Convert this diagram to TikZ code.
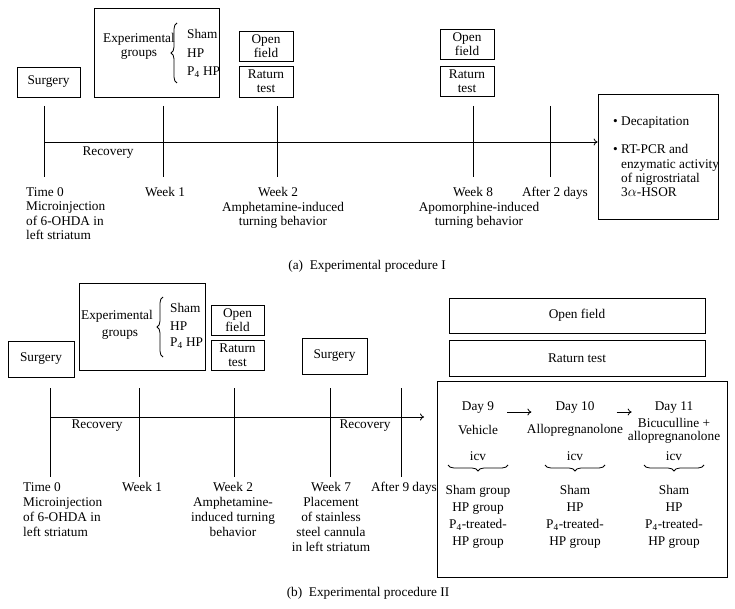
\documentclass[tikz,border=0pt]{standalone}
\usepackage{fontspec}
\setmainfont{Liberation Serif}
\usetikzlibrary{arrows.meta,decorations.pathreplacing}
\begin{document}
\begin{tikzpicture}[x=1pt,y=-1pt,
  every node/.style={font=\fontsize{13.3}{15}\selectfont, inner sep=0pt},
  box/.style={draw, line width=0.8pt, align=center},
  txt/.style={align=center},
  ln/.style={line width=0.8pt},
  arr/.style={line width=0.8pt, -{To[length=4pt,width=7pt]}},
  brc/.style={line width=0.8pt, decorate, decoration={brace, amplitude=6pt}},
  tight/.style={font=\fontsize{13.3}{14.3}\selectfont}]
\useasboundingbox (0,0) rectangle (735,609);

% ===================== (a) =====================
\node[box, minimum width=63pt, minimum height=30pt] (surgA) at (48.5,82) {Surgery};
\node[box, minimum width=125pt, minimum height=89pt] (expA) at (156.5,52.5) {};
\node[txt, tight] (expAt) at (139,46) {Experimental\\groups};
\draw[brc] (177,83) -- (177,23);
\node[anchor=west] (shamA) at (187,34) {Sham};
\node[anchor=west] (hpA) at (187,53) {HP};
\node[anchor=west] (p4A) at (187,72) {P\textsubscript{4} HP};
\node[box, tight, minimum width=54pt, minimum height=30pt] (openA1) at (266,46) {Open\\field};
\node[box, tight, minimum width=54pt, minimum height=31pt] (ratA1) at (266,81.5) {Raturn\\test};
\node[box, tight, minimum width=54pt, minimum height=30pt] (openA2) at (467,44) {Open\\field};
\node[box, tight, minimum width=54pt, minimum height=30pt] (ratA2) at (467,81) {Raturn\\test};
\node[box, minimum width=120pt, minimum height=125pt] (rightA) at (658,156.5) {};
\node[anchor=west] (decA) at (613,123) {\textbullet\ Decapitation};
\node[anchor=north west, align=left, tight] (rtA) at (613,144.4) {\textbullet\ RT-PCR and\\\hphantom{\textbullet\ }enzymatic activity\\\hphantom{\textbullet\ }of nigrostriatal\\\hphantom{\textbullet\ }3$\alpha$-HSOR};

% timeline a
\coordinate (a0t) at (44,106); \coordinate (a0b) at (44,177);
\coordinate (a1t) at (163,106); \coordinate (a1b) at (163,177);
\coordinate (a2t) at (277,106); \coordinate (a2b) at (277,177);
\coordinate (a8t) at (473,106); \coordinate (a8b) at (473,177);
\coordinate (a9t) at (550,106); \coordinate (a9b) at (550,177);
\coordinate (lineA) at (44,142);
\foreach \t in {a0,a1,a2,a8,a9} \draw[ln] (\t t) -- (\t b);
\draw[arr] (lineA) -- (lineA -| rightA.west);
\node (recA) at (108,153) {Recovery};

\node[anchor=north west, align=left, tight] (t0A) at (26,187.4) {Time 0\\Microinjection\\of 6-OHDA in\\left striatum};
\node[anchor=north] (w1A) at (165,187.4) {Week 1};
\node[anchor=north] (w2A) at (278,187.4) {Week 2};
\node[anchor=north, txt, tight] (w2Ab) at (283,201.7) {Amphetamine-induced\\turning behavior};
\node[anchor=north] (w8A) at (473,187.4) {Week 8};
\node[anchor=north, txt, tight] (w8Ab) at (479,201.7) {Apomorphine-induced\\turning behavior};
\node[anchor=north] (a2d) at (555,187.4) {After 2 days};
\node (capA) at (367,266) {(a)\ \ Experimental procedure I};

% ===================== (b) =====================
\node[box, minimum width=66pt, minimum height=36pt] (surgB1) at (41,359) {Surgery};
\node[box, minimum width=126pt, minimum height=87pt] (expB) at (142,326.5) {};
\node (expBt1) at (117,316) {Experimental};
\node (expBt2) at (120,335) {groups};
\draw[brc] (163,357) -- (163,297);
\node[anchor=west] (shamB) at (170,308) {Sham};
\node[anchor=west] (hpB) at (170,326) {HP};
\node[anchor=west] (p4B) at (170,343) {P\textsubscript{4} HP};
\node[box, tight, minimum width=53pt, minimum height=30pt] (openB1) at (237.5,320) {Open\\field};
\node[box, tight, minimum width=53pt, minimum height=30pt] (ratB1) at (237.5,355) {Raturn\\test};
\node[box, minimum width=65pt, minimum height=36pt] (surgB2) at (334.5,356) {Surgery};
\node[box, minimum width=256pt, minimum height=35pt] (openB2) at (577,315.5) {Open field};
\node[box, minimum width=256pt, minimum height=36pt] (ratB2) at (577,358) {Raturn test};
\node[box, minimum width=290pt, minimum height=196pt] (bigB) at (582,479) {};

% timeline b
\coordinate (b0t) at (50,388); \coordinate (b0b) at (50,477);
\coordinate (b1t) at (139,388); \coordinate (b1b) at (139,477);
\coordinate (b2t) at (234,388); \coordinate (b2b) at (234,477);
\coordinate (b7t) at (330,388); \coordinate (b7b) at (330,477);
\coordinate (b9t) at (401,388); \coordinate (b9b) at (401,477);
\coordinate (lineB) at (50,417);
\coordinate (lineBend) at (424,417);
\foreach \t in {b0,b1,b2,b7,b9} \draw[ln] (\t t) -- (\t b);
\draw[arr] (lineB) -- (lineBend);
\node (recB1) at (97,426) {Recovery};
\node (recB2) at (365,426) {Recovery};

\node[anchor=north west, align=left] (t0B) at (23,482.4) {Time 0\\Microinjection\\of 6-OHDA in\\left striatum};
\node[anchor=north] (w1B) at (142,482.4) {Week 1};
\node[anchor=north, txt] (w2B) at (233,482.4) {Week 2\\Amphetamine-\\induced turning\\behavior};
\node[anchor=north, txt] (w7B) at (331,482.4) {Week 7\\Placement\\of stainless\\steel cannula\\in left striatum};
\node[anchor=north] (a9B) at (404,482.4) {After 9 days};

% inside big box
\node (d9) at (478,408) {Day 9};
\node (veh) at (478,430) {Vehicle};
\node (d10) at (575,408) {Day 10};
\node (allo) at (575,430) {Allopregnanolone};
\node (d11) at (674,408) {Day 11};
\node[txt, font=\fontsize{13.3}{13}\selectfont] (bicu) at (674,430.5) {Bicuculline +\\allopregnanolone};
\draw[arr] ([xshift=13pt,yshift=-4pt]d9.east) -- ([xshift=-24pt,yshift=-4pt]d10.west);
\draw[arr] ([xshift=22pt,yshift=-4pt]d10.east) -- ([xshift=-23pt,yshift=-4pt]d11.west);
\node (icv1) at (478,456) {icv};
\node (icv2) at (575,456) {icv};
\node (icv3) at (674,456) {icv};
\draw[brc, decoration={mirror, amplitude=6pt}] (448,465) -- (508,465);
\draw[brc, decoration={mirror, amplitude=6pt}] (545,465) -- (605,465);
\draw[brc, decoration={mirror, amplitude=6pt}] (644,465) -- (704,465);
\node[anchor=north, txt, font=\fontsize{13.3}{17}\selectfont] (g1) at (478,485.4) {Sham group\\HP group\\P\textsubscript{4}-treated-\\HP group};
\node[anchor=north, txt, font=\fontsize{13.3}{17}\selectfont] (g2) at (575,485.4) {Sham\\HP\\P\textsubscript{4}-treated-\\HP group};
\node[anchor=north, txt, font=\fontsize{13.3}{17}\selectfont] (g3) at (674,485.4) {Sham\\HP\\P\textsubscript{4}-treated-\\HP group};

\node (capB) at (368,593) {(b)\ \ Experimental procedure II};
\end{tikzpicture}
\end{document}
